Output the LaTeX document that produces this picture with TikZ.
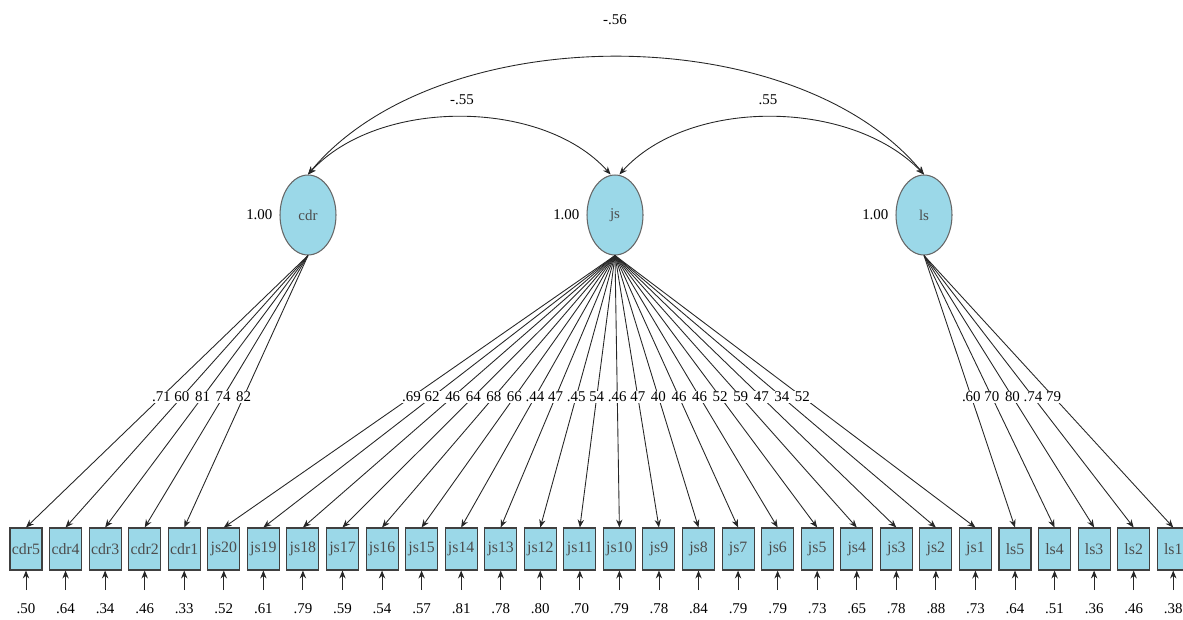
\documentclass[tikz,border=0pt]{standalone}
\usepackage{fontspec}
\setmainfont{Liberation Serif}
\usepackage{tikz}
\usetikzlibrary{positioning}
\usetikzlibrary{shapes.geometric}
\usetikzlibrary{arrows.meta}
\definecolor{semblue}{RGB}{155,216,232}
\tikzset{
    sem diagram/.style={
            x=0.02cm,y=-0.02cm,
            font=\fontsize{8.5}{10}\selectfont,
            latent/.style={ellipse,draw=black!60,line width=0.6pt,fill=semblue,text=black!70,
                    minimum width=1.12cm,minimum height=1.6cm,inner sep=0pt},
            observed/.style={rectangle,draw=black!75,line width=0.6pt,fill=semblue,text=black!70,
                    minimum width=0.64cm,minimum height=0.84cm,inner sep=0pt,
                    font=\fontsize{9}{10}\selectfont},
            loading/.style={-{Stealth[length=4.5pt,width=3.6pt]},line width=0.5pt,draw=black!85},
            corr/.style={{Stealth[length=4.5pt,width=3.6pt]}-{Stealth[length=4.5pt,width=3.6pt]},
                    line width=0.5pt,draw=black!85},
            coef/.style={fill=white,inner sep=0.6pt}
        }
    }

\begin{document}
\begin{tikzpicture}[sem diagram]
    \useasboundingbox (0,0) rectangle (1183,619);
    % factors
    \node[latent] (cdr) at (308,215) {cdr};
    \node[latent] (js) at (615,215) {js};
    \node[latent] (ls) at (924,215) {ls};
    \node[left=0.5pt of cdr] {1.00};
    \node[left=0.5pt of js] {1.00};
    \node[left=0.5pt of ls] {1.00};
    % covariances
    \coordinate (jsl) at ([xshift=-2.5pt]js.north);
    \coordinate (jsr) at ([xshift=2.5pt]js.north);
    \draw[corr] (cdr.north) .. controls (438,18) and (794,18) .. (ls.north);
    \draw[corr] (cdr.north) .. controls (378,98) and (542,98) .. (jsl);
    \draw[corr] (jsr) .. controls (688,98) and (850,98) .. (ls.north);
    \node (c13) at (615,20) {-.56};
    \node (c12) at (462,100) {-.55};
    \node (c23) at (768,100) {.55};
    % indicators and their errors
    \foreach \name/\err [count=\i from 0] in {cdr5/.50,cdr4/.64,cdr3/.34,cdr2/.46,cdr1/.33,
            js20/.52,js19/.61,js18/.79,js17/.59,js16/.54,js15/.57,js14/.81,js13/.78,js12/.80,js11/.70,
            js10/.79,js9/.78,js8/.84,js7/.79,js6/.79,js5/.73,js4/.65,js3/.78,js2/.88,js1/.73,
            ls5/.64,ls4/.51,ls3/.36,ls2/.46,ls1/.38} {
        \node[observed] (\name) at ({26+39.56*\i},549) {\name};
        \coordinate (e\name) at ({26+39.56*\i},590);
        \draw[loading] (e\name) -- (\name.south);
        \node (v\name) at ({26+39.56*\i},609) {\err};
    }
    % loadings
    \foreach \k/\val in {5/.71,4/60,3/81,2/74,1/82}
        \draw[loading] (cdr.south) -- node[coef,pos=0.52] {\val} (cdr\k.north);
    \foreach \k/\val in {20/.69,19/62,18/46,17/64,16/68,15/66,14/.44,13/47,12/.45,11/54,
            10/.46,9/47,8/40,7/46,6/46,5/52,4/59,3/47,2/34,1/52}
        \draw[loading] (js.south) -- node[coef,pos=0.52] {\val} (js\k.north);
    \foreach \k/\val in {5/.60,4/70,3/80,2/.74,1/79}
        \draw[loading] (ls.south) -- node[coef,pos=0.52] {\val} (ls\k.north);
\end{tikzpicture}
\end{document}
